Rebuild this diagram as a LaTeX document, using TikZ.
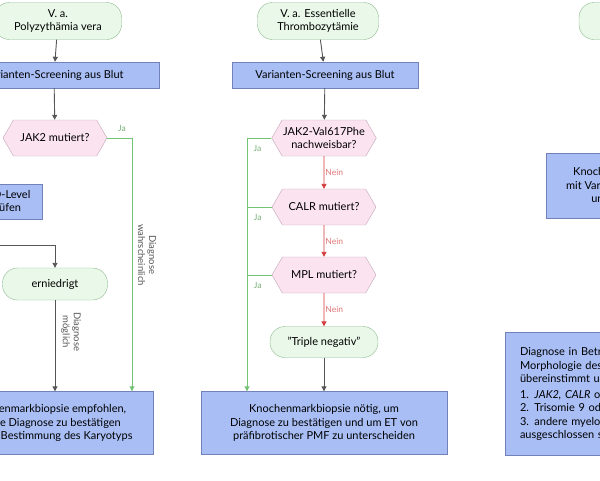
\documentclass[tikz,border=0pt]{standalone}
\usepackage{fontspec}
\setmainfont{Lato}
\usetikzlibrary{
  shapes.symbols,
  arrows.meta
}
\definecolor{termfill}{HTML}{E9F8E9}
\definecolor{termline}{HTML}{8CB98C}
\definecolor{boxfill}{HTML}{A8BEF5}
\definecolor{boxline}{HTML}{7282B8}
\definecolor{askfill}{HTML}{FBE4F0}
\definecolor{askline}{HTML}{C4A2B6}
\definecolor{flowgray}{HTML}{555555}
\definecolor{flowgreen}{HTML}{74C274}
\definecolor{flowred}{HTML}{D33A3A}
\tikzset{
  % Rounded start and end boxes.
  terminal/.style={
    draw=termline,
    fill=termfill,
    rounded corners=15pt,
    align=center,
    inner sep=0pt,
    font=\fontsize{11}{13}\selectfont},
%
  % For process steps.
  process/.style={
    draw=boxline,
    fill=boxfill,
    align=center,
    inner sep=0pt,
    font=\fontsize{11}{13.5}\selectfont},
%
  % For questions.
  question/.style={
    shape=signal,
    signal to=east and west,
    signal pointer angle=120,
    draw=askline,
    fill=askfill,
    align=center,
    inner sep=1pt,
    minimum height=36pt,
    minimum width=104pt,
    font=\fontsize{11}{13}\selectfont},
%
  % Connectors.
  flow/.style={
    flowgray,
    line width=0.9pt,
    -{Triangle[length=5pt,width=5pt]}},
  yes/.style={flow, flowgreen},
  no/.style={flow, flowred},
%
  % Small labels on connectors.
  tag/.style={
    font=\fontsize{8.5}{10}\selectfont,
    inner sep=1pt},
  yes tag/.style={tag, text=flowgreen!70!gray},
  no tag/.style={tag, text=flowred!70!white},
  note/.style={tag, text=flowgray, align=center, rotate=-90,
    font=\fontsize{9.5}{11}\selectfont}
}
\begin{document}
\begin{tikzpicture}[x=1pt,y=-1pt]
  \useasboundingbox (0,0) rectangle (600,480);
  \clip (0,0) rectangle (600,480);

  % Polyzythaemia vera
  \node[terminal, minimum width=127pt, minimum height=37pt]
    (pvStart) at (58,21) {V. a.\\Polyzythämia vera};
  \node[process, minimum width=210pt, minimum height=26pt]
    (pvScreen) at (54,75) {Varianten-Screening aus Blut};
  \node[question] (pvJak) at (55,138) {JAK2 mutiert?};
  \node[process, minimum width=74pt, minimum height=35pt]
    (pvEpo) at (5,202) {EPO-Level\\prüfen};
  \node[terminal, minimum width=105pt, minimum height=32pt]
    (pvLow) at (55,284) {erniedrigt};
  \node[process, minimum width=212pt, minimum height=63pt]
    (pvBiopsy) at (47,423)
    {Knochenmarkbiopsie empfohlen,\\um die Diagnose zu bestätigen\\und zur Bestimmung des Karyotyps};
  \coordinate (pvTurn) at (132,138);
  \coordinate (pvFrom) at (-5,245);

  \draw[flow] (pvStart) -- (pvScreen);
  \draw[flow] (pvScreen) -- (pvJak);
  \draw[yes] (pvJak.east) -- (pvTurn) -- (pvTurn |- pvBiopsy.north);
  \node[yes tag] at (122,128) {Ja};
  \node[note] at (147,255) {Diagnose\\wahrscheinlich};
  \draw[flow] (pvFrom) -- (pvFrom -| pvLow) -- (pvLow);
  \draw[flow] (pvLow) -- (pvLow |- pvBiopsy.north);
  \node[note] at (71,332) {Diagnose\\möglich};

  % Essentielle Thrombozytaemie
  \node[terminal, minimum width=121pt, minimum height=37pt]
    (etStart) at (318,21) {V. a. Essentielle\\Thrombozytämie};
  \node[process, minimum width=186pt, minimum height=26pt]
    (etScreen) at (325,75) {Varianten-Screening aus Blut};
  \node[question] (etJak) at (324,138) {JAK2-Val617Phe\\nachweisbar?};
  \node[question] (etCalr) at (324,207) {CALR mutiert?};
  \node[question] (etMpl) at (324,275) {MPL mutiert?};
  \node[terminal, minimum width=108pt, minimum height=31pt]
    (etTriple) at (324,342) {"Triple negativ"};
  \node[process, minimum width=246pt, minimum height=63pt]
    (etBiopsy) at (324,423)
    {Knochenmarkbiopsie nötig, um\\Diagnose zu bestätigen und um ET von\\präfibrotischer PMF zu unterscheiden};
  \coordinate (etRail) at (247,138);

  \draw[flow] (etStart) -- (etScreen);
  \draw[flow] (etScreen) -- (etJak);
  \draw[no] (etJak) -- node[no tag, right] {Nein} (etCalr);
  \draw[no] (etCalr) -- node[no tag, right] {Nein} (etMpl);
  \draw[no] (etMpl) -- node[no tag, right] {Nein} (etTriple);
  \draw[flow] (etTriple) -- (etBiopsy);
  \draw[yes] (etJak.west) -- (etRail) -- (etRail |- etBiopsy.north);
  \draw[flowgreen, line width=0.9pt] (etCalr.west) -- (etCalr.west -| etRail);
  \draw[flowgreen, line width=0.9pt] (etMpl.west) -- (etMpl.west -| etRail);
  \foreach \q in {etJak, etCalr, etMpl}
    \node[yes tag] at ([xshift=-14pt,yshift=-10pt]\q.west) {Ja};

  % Myelofibrose
  \node[terminal, minimum width=110pt, minimum height=37pt]
    (pmfStart) at (634,21) {V. a.\\Myelofibrose};
  \node[process, minimum width=155pt, minimum height=65pt]
    (pmfBiopsy) at (624,186)
    {Knochenmarkbiopsie\\mit Varianten-Screening\\und Karyotyp};
  \node[process, minimum width=250pt, minimum height=123pt,
        align=left, text width=220pt]
    (pmfCriteria) at (630,394)
    {Diagnose in Betracht ziehen, wenn die\\Morphologie des Knochenmarks\\übereinstimmt und\\[2pt]
     1. \textit{JAK2, CALR} oder \textit{MPL} mutiert,\\
     2. Trisomie 9 oder del(13q) und\\
     3. andere myeloische Neoplasien\\ausgeschlossen sind};
\end{tikzpicture}
\end{document}
